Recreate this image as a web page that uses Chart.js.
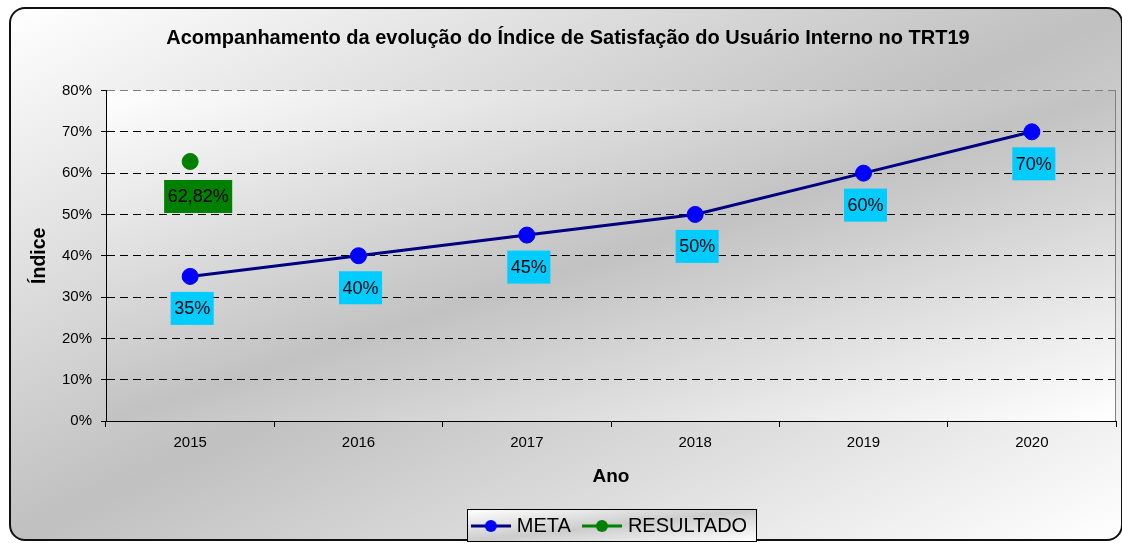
<!DOCTYPE html>
<html>
<head>
<meta charset="utf-8">
<script src="https://cdn.jsdelivr.net/npm/chart.js@4.4.0/dist/chart.umd.min.js"></script>
<style>
  html, body { margin: 0; padding: 0; background: #fff; overflow: hidden; }
  #moldura {
    position: absolute; left: 9px; top: 7px; width: 1110px; height: 530px;
    border: 2px solid #111; border-radius: 16px;
    background: linear-gradient(to bottom right, #ffffff 0%, #c0c0c0 50%, #ffffff 100%);
  }
  #grafico { position: absolute; left: 0; top: 0; }
</style>
</head>
<body>
<div id="moldura"></div>
<canvas id="grafico" width="1122" height="543"></canvas>
<script>
// dados
var anos = ['2015', '2016', '2017', '2018', '2019', '2020'];
var meta = [0.35, 0.40, 0.45, 0.50, 0.60, 0.70];
var resultado = [0.6282, null, null, null, null, null];

var fonte = '"Liberation Sans", Arial, sans-serif';
Chart.defaults.font.family = fonte;
Chart.defaults.color = '#000';

function pct(v) {
    return (Math.round(v * 10000) / 100).toString().replace('.', ',') + '%';
}

// símbolo da legenda: linha com bolinha no meio
function simbolo(linha, ponto) {
    var c = document.createElement('canvas');
    c.width = 40; c.height = 14;
    var x = c.getContext('2d');
    x.strokeStyle = linha; x.lineWidth = 3;
    x.beginPath(); x.moveTo(0, 7); x.lineTo(40, 7); x.stroke();
    x.fillStyle = ponto;
    x.beginPath(); x.arc(20, 7, 6, 0, Math.PI * 2); x.fill();
    return c;
}
var simbolos = [simbolo('#000080', '#0000ff'), simbolo('#008000', '#008000')];

// caixas dos rótulos de cada série
var rotulos = [
    {cor: '#00ccff', dx: 2, dy: 32},
    {cor: '#008000', dx: 8, dy: 35}
];

function gradiente(ctx, x, y, w, h, meio) {
    ctx.save();
    ctx.translate(x, y);
    ctx.scale(w, h);
    var g = ctx.createLinearGradient(0, 0, 1, 1);
    g.addColorStop(0, '#ffffff');
    g.addColorStop(0.5, meio);
    g.addColorStop(1, '#ffffff');
    ctx.fillStyle = g;
    ctx.fillRect(0, 0, 1, 1);
    ctx.restore();
}

var extras = {
    id: 'extras',
    afterLayout: function (chart) {
        // legenda centrada na área do gráfico, um pouco mais baixa
        var lg = chart.legend, ca = chart.chartArea;
        var dx = (ca.left + ca.right) / 2 - (lg.left + lg.right) / 2;
        lg.left += dx;
        lg.right += dx;
        lg.top += 3;
        lg.bottom += 3;
    },
    beforeDraw: function (chart) {
        var ctx = chart.ctx, ca = chart.chartArea;
        gradiente(ctx, ca.left, ca.top, ca.width, ca.height, '#c2c2c2');

        var hb = chart.legend.legendHitBoxes;
        if (hb && hb.length) {
            var l = Infinity, r = -Infinity, t = Infinity, b = -Infinity;
            hb.forEach(function (h) {
                l = Math.min(l, h.left); r = Math.max(r, h.left + h.width);
                t = Math.min(t, h.top); b = Math.max(b, h.top + h.height);
            });
            var bx = Math.round(l - 8) + 0.5, by = Math.round(t - 7) + 0.5;
            var bw = Math.round(r - l + 17), bh = Math.round(b - t + 12);
            gradiente(ctx, bx, by, bw, bh, '#cccccc');
            ctx.save();
            ctx.strokeStyle = '#000';
            ctx.lineWidth = 1;
            ctx.strokeRect(bx, by, bw, bh);
            ctx.restore();
        }
    },
    beforeDatasetsDraw: function (chart) {
        var ctx = chart.ctx, ca = chart.chartArea;
        ctx.save();
        ctx.strokeStyle = '#808080';
        ctx.lineWidth = 1;
        ctx.beginPath();
        ctx.moveTo(Math.round(ca.right) - 0.5, ca.top);
        ctx.lineTo(Math.round(ca.right) - 0.5, ca.bottom);
        ctx.stroke();
        ctx.restore();
    },
    afterDatasetsDraw: function (chart) {
        var ctx = chart.ctx;
        ctx.save();
        ctx.font = '18px ' + fonte;
        ctx.textAlign = 'center';
        ctx.textBaseline = 'middle';
        chart.data.datasets.forEach(function (ds, i) {
            var st = rotulos[i];
            chart.getDatasetMeta(i).data.forEach(function (pt, j) {
                var v = ds.data[j];
                if (v == null) return;
                var txt = pct(v);
                var w = ctx.measureText(txt).width + 7, h = 33;
                var cx = pt.x + st.dx, cy = pt.y + st.dy;
                ctx.fillStyle = st.cor;
                ctx.fillRect(cx - w / 2, cy - h / 2, w, h);
                ctx.fillStyle = '#000';
                ctx.fillText(txt, cx, cy + 1);
            });
        });
        ctx.restore();
    }
};

new Chart(document.getElementById('grafico').getContext('2d'), {
    type: 'line',
    data: {
        labels: anos,
        datasets: [
            {
                label: 'META',
                data: meta,
                borderColor: '#000080',
                borderWidth: 3,
                pointRadius: 8,
                pointBorderWidth: 1,
                pointBackgroundColor: '#0000ff',
                pointBorderColor: '#0000ff',
                fill: false
            },
            {
                label: 'RESULTADO',
                data: resultado,
                borderColor: '#008000',
                borderWidth: 3,
                showLine: false,
                pointRadius: 8,
                pointBorderWidth: 1,
                pointBackgroundColor: '#008000',
                pointBorderColor: '#008000',
                fill: false
            }
        ]
    },
    options: {
        responsive: false,
        animation: false,
        layout: {autoPadding: false, padding: {left: 20, right: 6, top: 0, bottom: 0}},
        plugins: {
            title: {
                display: true,
                text: 'Acompanhamento da evolução do Índice de Satisfação do Usuário Interno no TRT19',
                font: {size: 20, weight: 'bold'},
                color: '#000',
                padding: {top: 26, bottom: 40.5}
            },
            legend: {
                position: 'bottom',
                labels: {
                    usePointStyle: true,
                    pointStyleWidth: 32,
                    font: {size: 20},
                    color: '#000',
                    padding: 15,
                    generateLabels: function (chart) {
                        var itens = Chart.defaults.plugins.legend.labels.generateLabels(chart);
                        itens.forEach(function (it) { it.pointStyle = simbolos[it.datasetIndex]; });
                        return itens;
                    }
                }
            },
            tooltip: {enabled: false}
        },
        scales: {
            x: {
                offset: true,
                grid: {offset: true, drawOnChartArea: false, tickLength: 6, color: '#000'},
                border: {color: '#000', width: 1},
                ticks: {font: {size: 15}, color: '#000', padding: 7},
                title: {
                    display: true, text: 'Ano', color: '#000',
                    font: {size: 19, weight: 'bold'},
                    padding: {top: 0, bottom: 10}
                },
                afterFit: function (s) {
                    s.height = 77;
                    s.paddingLeft = 0;
                    s.paddingRight = 0;
                }
            },
            y: {
                min: 0,
                max: 0.8,
                ticks: {
                    stepSize: 0.1,
                    font: {size: 15},
                    color: '#000',
                    padding: 9,
                    callback: function (v) { return Math.round(v * 100) + '%'; }
                },
                grid: {
                    color: function (c) { return c.tick && c.tick.value > 0.79 ? '#808080' : '#000'; },
                    tickColor: '#000',
                    tickLength: 5,
                    tickBorderDash: []
                },
                border: {color: '#000', width: 1, dash: [8, 5]},
                title: {
                    display: true, text: 'Índice', color: '#000',
                    font: {size: 19.5, weight: 'bold'},
                    padding: {top: 8, bottom: 0}
                },
                afterFit: function (s) { s.width = 86; }
            }
        }
    },
    plugins: [extras]
});
</script>
</body>
</html>
